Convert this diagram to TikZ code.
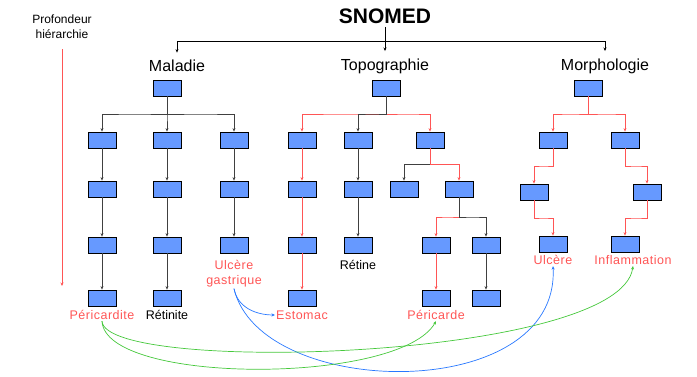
\documentclass[tikz,border=0pt]{standalone}
\usepackage{fontspec}
\setmainfont{Liberation Sans}
\usepackage{tikz}
\usetikzlibrary{arrows.meta, positioning, calc, shadows}

\definecolor{boxblue}{RGB}{102,153,255}
\definecolor{hitred}{RGB}{255,85,85}
\definecolor{linkgreen}{RGB}{70,200,60}
\definecolor{linkblue}{RGB}{40,120,255}

\begin{document}
\begin{tikzpicture}[x=1pt,y=-1pt,>={Stealth[length=3.5pt,width=3pt]},
        concept/.style={fill=boxblue,draw=black,line width=0.8pt,minimum width=28pt,minimum height=16pt,inner sep=0pt,
          drop shadow={shadow xshift=0.7pt,shadow yshift=-0.7pt,fill=black!30}},
        heading/.style={font=\fontsize{16}{18}\selectfont},
        term/.style={font=\fontsize{12.5}{15}\selectfont,inner sep=1pt,align=center},
        hit/.style={term,text=hitred,font=\fontsize{12.5}{15}\selectfont\addfontfeatures{LetterSpace=4}},
        link/.style={->,color=black!75,line width=0.7pt},
        rlink/.style={->,color=hitred,line width=0.7pt},
        fork/.style={to path={(\tikztostart) |- ($(\tikztostart)!.5!(\tikztotarget)$) -| (\tikztotarget)}}]

        \useasboundingbox (0,0) rectangle (697,376);

        % titre et axes
        \node[font=\bfseries\fontsize{21}{24}\selectfont] (snomed) at (385,16) {SNOMED};
        \node[heading] (mal) at (177,66) {Maladie};
        \node[heading] (top) at (385,66) {Topographie};
        \node[heading] (mor) at (605,66) {Morphologie};
        \coordinate (hub) at (385,41);

        \draw[->,line width=0.7pt,shorten >=4pt] (snomed) -- (top.north);
        \draw[->,line width=0.7pt,shorten >=4pt] (hub) -| (mal.north);
        \draw[->,line width=0.7pt,shorten >=4pt] (hub) -| (mor.north);

        \node[font=\fontsize{12}{15}\selectfont,align=center] (depth) at (62,27) {Profondeur\\hi\'erarchie};
        \coordinate (depthend) at (62,286);
        \draw[rlink,shorten <=7pt] (depth) -- (depthend);

        % Maladie
        \node[concept] (mal0) at (167,88) {};
        \node[concept] (mal1a) at (102,140) {};
        \node[concept] (mal1b) at (167,140) {};
        \node[concept] (mal1c) at (234,140) {};
        \node[concept] (mal2a) at (102,189) {};
        \node[concept] (mal2b) at (167,189) {};
        \node[concept] (mal2c) at (234,189) {};
        \node[concept] (mal3a) at (102,245) {};
        \node[concept] (mal3b) at (167,245) {};
        \node[concept] (mal3c) at (234,245) {};
        \node[concept] (mal4a) at (102,298) {};
        \node[concept] (mal4b) at (167,298) {};

        \path[link] (mal0.south) edge[fork] (mal1a.north)
                edge[fork] (mal1b.north)
                edge[fork] (mal1c.north)
                (mal1a) edge (mal2a) (mal2a) edge (mal3a) (mal3a) edge (mal4a)
                (mal1b) edge (mal2b) (mal2b) edge (mal3b) (mal3b) edge (mal4b)
                (mal1c) edge (mal2c) (mal2c) edge (mal3c);

        % Topographie
        \node[concept] (top0) at (386,88) {};
        \node[concept] (top1a) at (302,140) {};
        \node[concept] (top1b) at (358,140) {};
        \node[concept] (top1c) at (430,140) {};
        \node[concept] (top2a) at (302,189) {};
        \node[concept] (top2b) at (358,189) {};
        \node[concept] (top2c) at (404,189) {};
        \node[concept] (top2d) at (459,189) {};
        \node[concept] (top3a) at (302,245) {};
        \node[concept] (top3b) at (358,245) {};
        \node[concept] (top3c) at (436,245) {};
        \node[concept] (top3d) at (486,245) {};
        \node[concept] (top4a) at (302,298) {};
        \node[concept] (top4c) at (436,298) {};
        \node[concept] (top4d) at (486,298) {};

        \path[rlink] (top0.south) edge[fork] (top1a.north)
                edge[fork] (top1c.north);
        \path[link] (top0.south) edge[fork] (top1b.north)
                (top1c.south) edge[fork] (top2c.north);
        \path[rlink] (top1c.south) edge[fork] (top2d.north)
                (top2d.south) edge[fork] (top3c.north)
                (top1a) edge (top2a) (top2a) edge (top3a) (top3a) edge (top4a)
                (top3c) edge (top4c);
        \path[link] (top2d.south) edge[fork] (top3d.north)
                (top1b) edge (top2b) (top2b) edge (top3b)
                (top3d) edge (top4d);

        % Morphologie
        \node[concept] (mor0) at (588,88) {};
        \node[concept] (mor1a) at (553,140) {};
        \node[concept] (mor1b) at (625,140) {};
        \node[concept] (mor2a) at (534,192) {};
        \node[concept] (mor2b) at (647,192) {};
        \node[concept] (mor3a) at (553,244) {};
        \node[concept] (mor3b) at (625,244) {};

        \path[rlink] (mor0.south) edge[fork] (mor1a.north)
                edge[fork] (mor1b.north)
                (mor1a.south) edge[fork] (mor2a.north)
                (mor1b.south) edge[fork] (mor2b.north)
                (mor2a.south) edge[fork] (mor3a.north)
                (mor2b.south) edge[fork] (mor3b.north);

        % termes
        \node[hit] (pericardite) [below=3pt of mal4a] {P\'ericardite};
        \node[term] (retinite) [below=3pt of mal4b] {R\'etinite};
        \node[hit] (ulcgas) [below=6pt of mal3c] {Ulc\`ere\\gastrique};
        \node[term] (retine) [below=6pt of top3b] {R\'etine};
        \node[hit] (estomac) [below=3pt of top4a] {Estomac};
        \node[hit] (pericarde) [below=3pt of top4c] {P\'ericarde};
        \node[hit] (ulcere) [below=2pt of mor3a] {Ulc\`ere};
        \node[hit] (inflam) [below=2pt of mor3b,xshift=8pt] {Inflammation};

        % liens entre axes
        \draw[->,linkblue,line width=0.7pt] (ulcgas.south) to[out=-80,in=180] (estomac.west);
        \draw[->,linkblue,line width=0.7pt] (ulcgas.south) .. controls (260,400) and (560,405) .. (ulcere.south);
        \draw[->,linkgreen,line width=0.7pt] (pericardite.south) .. controls (105,375) and (620,360) .. (inflam.south);
        \draw[->,linkgreen,line width=0.7pt] (pericardite.south) .. controls (105,385) and (400,385) .. (pericarde.south);
\end{tikzpicture}
\end{document}
